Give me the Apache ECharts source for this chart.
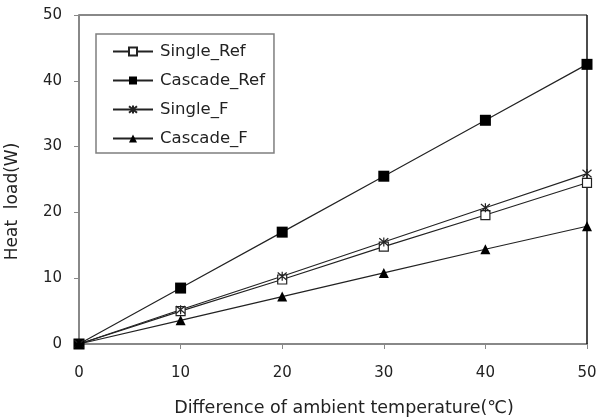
<!DOCTYPE html>
<html><head><meta charset="utf-8">
<script src="https://cdn.jsdelivr.net/npm/echarts@6/dist/echarts.min.js"></script>
<style>html,body{margin:0;padding:0;background:#fff}#c{width:598px;height:417px}</style>
</head><body><div id="c"></div>
<script>
const xValues = [0, 10, 20, 30, 40, 50];
const singleRef = [0, 5.0, 9.8, 14.8, 19.6, 24.5];
const cascadeRef = [0, 8.5, 17.0, 25.5, 34.0, 42.5];
const singleF = [0, 5.2, 10.3, 15.5, 20.7, 25.9];
const cascadeF = [0, 3.6, 7.2, 10.8, 14.4, 17.9];
const seriesNames = ['Single_Ref', 'Cascade_Ref', 'Single_F', 'Cascade_F'];

const pair = arr => xValues.map((x, i) => [x, arr[i]]);
const font = '"DejaVu Sans", Verdana, sans-serif';
const asterisk = 'path://M0,0L10,10M10,0L0,10M5,-1L5,11';

const chart = echarts.init(document.getElementById('c'), null, {renderer: 'canvas'});
const base = {type: 'line', lineStyle: {color: '#222', width: 1.2}, animation: false};
chart.setOption({
  backgroundColor: '#fff',
  grid: {left: 79, top: 15, right: 11, bottom: 73, containLabel: false, outerBoundsMode: 'none'},
  legend: {
    left: 96, top: 34, orient: 'vertical',
    padding: [9, 9, 6, 16],
    itemGap: 12, itemWidth: 40, itemHeight: 10,
    borderColor: '#7f7f7f', borderWidth: 1.5,
    textStyle: {fontFamily: font, fontSize: 16.5, color: '#222', padding: [0, 0, 0, 2]},
    data: seriesNames
  },
  xAxis: {
    type: 'value', min: 0, max: 50, interval: 10,
    name: 'Difference of ambient temperature(℃)', nameLocation: 'middle', nameGap: 55,
    nameTextStyle: {fontFamily: font, fontSize: 17.5, color: '#222', padding: [0, 0, 0, 22]},
    axisLine: {show: true, lineStyle: {color: '#888', width: 2}},
    axisTick: {show: true, inside: false, length: 5, lineStyle: {color: '#888', width: 1}},
    axisLabel: {fontFamily: font, fontSize: 15, color: '#222', margin: 22},
    splitLine: {show: false}
  },
  yAxis: {
    type: 'value', min: 0, max: 50, interval: 10,
    name: 'Heat  load(W)', nameLocation: 'middle', nameGap: 58,
    nameTextStyle: {fontFamily: font, fontSize: 17, color: '#222', padding: [0, 44, 0, 0]},
    axisLine: {show: true, lineStyle: {color: '#888', width: 2}},
    axisTick: {show: true, inside: false, length: 5, lineStyle: {color: '#888', width: 1}},
    axisLabel: {fontFamily: font, fontSize: 15, color: '#222', margin: 17},
    splitLine: {show: false}
  },
  graphic: [
    {type: 'line', shape: {x1: 79, y1: 15, x2: 587, y2: 15}, style: {stroke: '#888', lineWidth: 2}, silent: true},
    {type: 'line', shape: {x1: 587, y1: 15, x2: 587, y2: 344}, style: {stroke: '#111', lineWidth: 1.5}, silent: true, z: 1}
  ],
  series: [
    Object.assign({}, base, {name: seriesNames[0], data: pair(singleRef), symbol: 'rect', symbolSize: 9,
      itemStyle: {color: '#fff', borderColor: '#222', borderWidth: 1.2}}),
    Object.assign({}, base, {name: seriesNames[1], data: pair(cascadeRef), symbol: 'rect', symbolSize: 11,
      itemStyle: {color: '#000', borderColor: '#000', borderWidth: 0}}),
    Object.assign({}, base, {name: seriesNames[2], data: pair(singleF), symbol: asterisk, symbolSize: 9,
      itemStyle: {color: '#222', borderColor: '#222', borderWidth: 1.2}}),
    Object.assign({}, base, {name: seriesNames[3], data: pair(cascadeF), symbol: 'triangle', symbolSize: 10,
      itemStyle: {color: '#000', borderColor: '#000', borderWidth: 0}})
  ]
});
</script></body></html>
